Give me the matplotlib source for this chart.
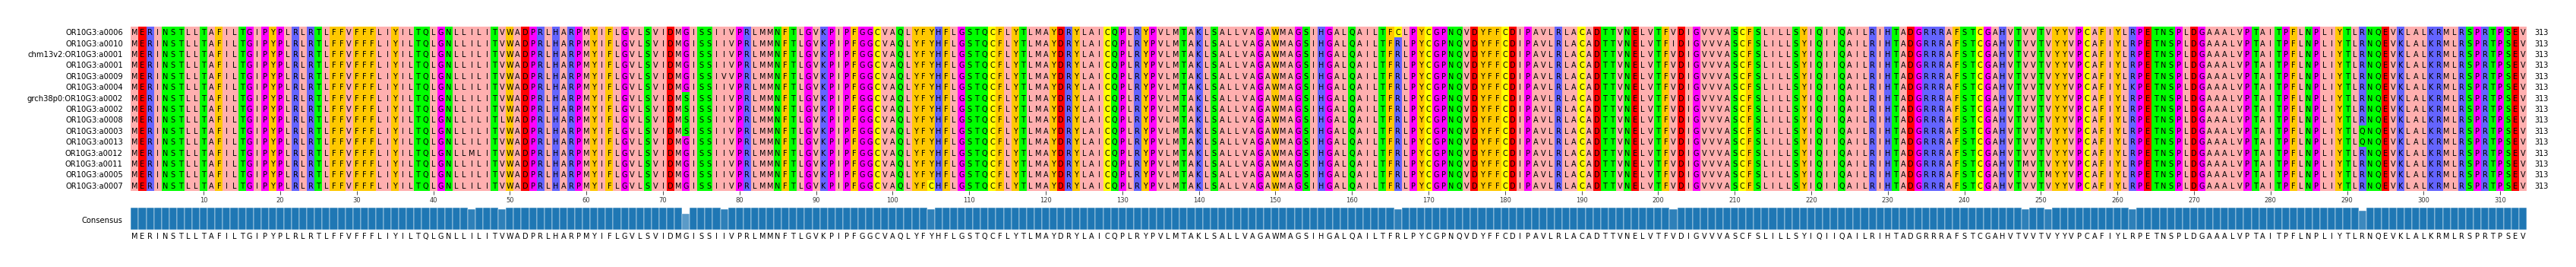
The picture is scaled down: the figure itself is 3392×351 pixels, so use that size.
import matplotlib
matplotlib.use('Agg')
import matplotlib.pyplot as plt
from matplotlib.patches import Rectangle
from collections import Counter

W, H = 3392, 351

names = ['OR10G3:a0006', 'OR10G3:a0010', 'chm13v2:OR10G3:a0001', 'OR10G3:a0001', 'OR10G3:a0009',
         'OR10G3:a0004', 'grch38p0:OR10G3:a0002', 'OR10G3:a0002', 'OR10G3:a0008', 'OR10G3:a0003',
         'OR10G3:a0013', 'OR10G3:a0012', 'OR10G3:a0011', 'OR10G3:a0005', 'OR10G3:a0007']

consensus = ('MERINSTLLTAFILTGIPYPLRLRTLFFVFFFL'
             'IYILTQLGNLLILITVWADPRLHARPMYIFLGVLSVIDMGISSIIVPRL'
             'MMNFTLGVKPIPFGGCVAQLYFYHFLGSTQCFLYTLMAYDRYLAICQPLR'
             'YPVLMTAKLSALLVAGAWMAGSIHGALQAILTFRLPYCGPNQVDYFFCD'
             'IPAVLRLACADTTVNELVTFVDIGVVVASCFSLILLSYIQIIQAILRIHT'
             'ADGRRRAFSTCGAHVTVVTVYYVPCAFIYLRPETNSPLDGAAALVP'
             'TAITPFLNPLIYTLRNQEVKLALKRMLRSPRTPSEV')

# (row, 1-based column, residue) where a sequence differs from the consensus
variants = [(11, 45, 'M'), (8, 49, 'L'),
            (6, 73, 'S'), (7, 73, 'S'), (8, 73, 'S'), (9, 73, 'S'),
            (4, 78, 'V'), (14, 105, 'C'), (0, 166, 'C'), (1, 202, 'I'),
            (12, 248, 'M'), (13, 251, 'M'), (5, 262, 'K'),
            (9, 292, 'Q'), (10, 292, 'Q')]

zappo = {'A': '#FFAFAF', 'I': '#FFAFAF', 'L': '#FFAFAF', 'M': '#FFAFAF', 'V': '#FFAFAF',
         'F': '#FFC800', 'W': '#FFC800', 'Y': '#FFC800',
         'C': '#FFFF00',
         'N': '#00FF00', 'Q': '#00FF00', 'S': '#00FF00', 'T': '#00FF00',
         'G': '#FF00FF', 'P': '#FF00FF',
         'D': '#FF0000', 'E': '#FF0000',
         'H': '#6464FF', 'K': '#6464FF', 'R': '#6464FF'}

seqs = [list(consensus) for _ in names]
for row, col, res in variants:
    seqs[row][col - 1] = res

n = len(consensus)
identity = []
for col in range(n):
    counts = Counter(s[col] for s in seqs)
    identity.append(counts.most_common(1)[0][1] / len(seqs))

fig = plt.figure(figsize=(W / 100, H / 100), dpi=100)
left, right = 172.4, 3327.4

ax = fig.add_axes([left / W, 1 - 251 / H, (right - left) / W, 216 / H])
ax.set_xlim(0, n)
ax.set_ylim(len(seqs), 0)
for i, s in enumerate(seqs):
    for j, res in enumerate(s):
        ax.add_patch(Rectangle((j, i), 1, 1, facecolor=zappo[res], lw=0))
        ax.text(j + 0.5, i + 0.57, res, ha='center', va='center', fontsize=7, color='black')
    ax.text(-1.05, i + 0.57, names[i], ha='right', va='center', fontsize=7.2)
    ax.text(n + 1.0, i + 0.57, str(n), ha='left', va='center', fontsize=7)

ticks = list(range(10, n + 1, 10))
ax.set_xticks([t - 0.5 for t in ticks])
ax.set_xticklabels(ticks, fontsize=6, color='#333333')
ax.tick_params(axis='x', width=0.5, pad=2)
ax.set_yticks([])
for side in ['top', 'left', 'right', 'bottom']:
    ax.spines[side].set_visible(False)

ax2 = fig.add_axes([left / W, 1 - 302 / H, (right - left) / W, 29 / H])
ax2.set_xlim(0, n)
ax2.set_ylim(0, 1)
for j in range(n):
    ax2.bar(j + 0.5, identity[j], width=1, color='#1f77b4', edgecolor='white', lw=0.35, alpha=identity[j])
    ax2.text(j + 0.5, -0.31, consensus[j], ha='center', va='center', fontsize=7)
ax2.text(-1.05, 0.40, 'Consensus', ha='right', va='center', fontsize=7.2)
ax2.axis('off')

fig.savefig('out.png', dpi=100)
